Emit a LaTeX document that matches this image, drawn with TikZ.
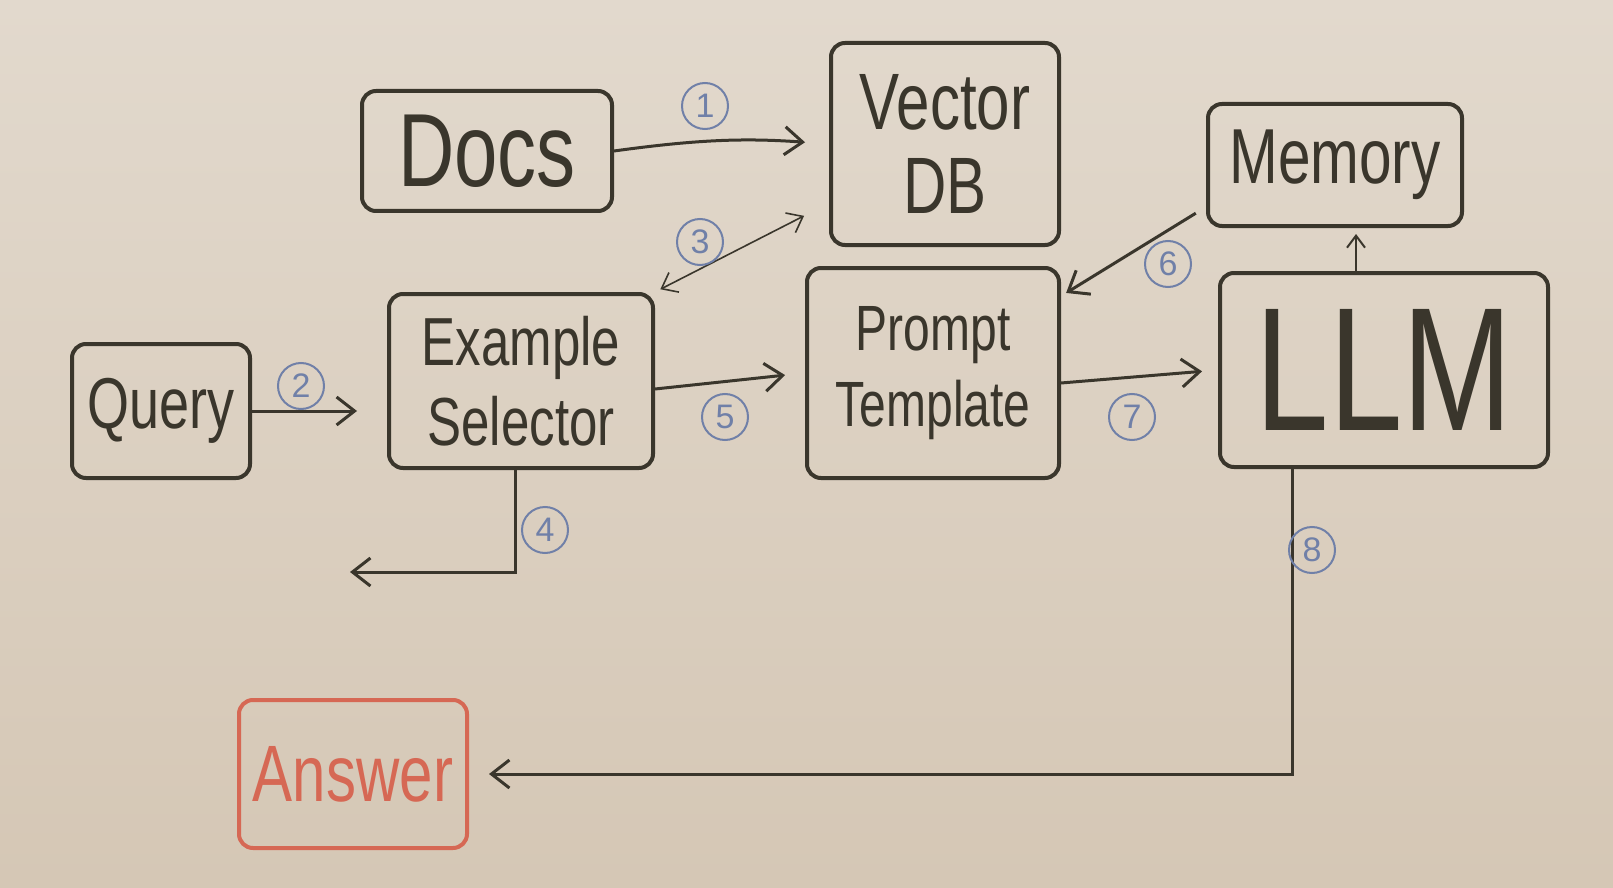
\documentclass[tikz,border=0pt]{standalone}
\usepackage{fontspec}
\setmainfont{Liberation Sans}
\usetikzlibrary{arrows.meta}
\definecolor{boardtop}{RGB}{226,217,205}
\definecolor{boardbot}{RGB}{213,199,181}
\definecolor{ink}{RGB}{58,54,44}
\definecolor{numblue}{RGB}{112,128,168}
\definecolor{redink}{RGB}{214,104,84}
\newcommand{\hw}[1]{\scalebox{0.75}[1]{#1}}
\begin{document}
\begin{tikzpicture}[x=0.5pt, y=-0.5pt,
    box/.style={draw=ink, line width=2pt, rounded corners=7pt, text=ink, align=center, inner sep=2pt},
    wire/.style={draw=ink, line width=1.5pt, -{Straight Barb[length=9pt, width=14pt, line width=1.5pt]}},
    num/.style={circle, draw=numblue, line width=1pt, text=numblue, minimum size=23pt, inner sep=0pt, font=\fontsize{17}{17}\selectfont}]
            \useasboundingbox (0, 0) rectangle (1613, 888);
            \shade[top color=boardtop, bottom color=boardbot] (0, 0) rectangle (1613, 888);
            % boxes
            \node[box, minimum width=125pt, minimum height=60pt, font=\fontsize{52}{60}\selectfont] (docs) at (487, 151) {\hw{Docs}};
            \node[box, minimum width=114pt, minimum height=101pt, font=\fontsize{40}{42}\selectfont] (vdb) at (945, 144) {\hw{Vector}\\\hw{DB}};
            \node[box, minimum width=127pt, minimum height=61pt, font=\fontsize{39}{42}\selectfont] (mem) at (1335, 165) {\hw{Memory}};
            \node[box, minimum width=89pt, minimum height=67pt, font=\fontsize{36}{42}\selectfont] (query) at (161, 411) {\hw{Query}};
            \node[box, minimum width=132pt, minimum height=87pt, font=\fontsize{34}{40}\selectfont] (sel) at (521, 381) {\hw{Example}\\\hw{Selector}};
            \node[box, minimum width=126pt, minimum height=105pt, font=\fontsize{32}{38}\selectfont] (tmpl) at (933, 373) {\hw{Prompt}\\\hw{Template}};
            \node[box, minimum width=164pt, minimum height=97pt, font=\fontsize{88}{90}\selectfont] (llm) at (1384, 370) {\hw{LLM}};
            \node[box, draw=redink, text=redink, minimum width=114pt, minimum height=74pt, font=\fontsize{40}{44}\selectfont] (ans) at (353, 774) {\hw{Answer}};
            \coordinate (skip) at (350, 572);
            % connectors
            \draw[wire, shorten >=12pt] (docs.east) to[bend left=6] (vdb.west);
            \draw[wire, shorten >=15pt] (query.east) -- (query.east -| sel.west);
            \draw[draw=ink, line width=0.8pt, {Straight Barb[length=7pt, width=11pt]}-{Straight Barb[length=7pt, width=11pt]}, shorten <=3pt, shorten >=14pt] (sel.north east) -- (vdb.207);
            \draw[wire] ([xshift=-3pt]sel.south) |- (skip);
            \draw[wire, shorten >=10pt] ([yshift=-4pt]sel.east) -- (tmpl.west);
            \draw[wire, shorten <=6pt, shorten >=3pt] (mem.198) -- (tmpl.31);
            \draw[wire, shorten >=8pt] ([yshift=-5pt]tmpl.east) -- (llm.west);
            \draw[draw=ink, line width=1pt, -{Straight Barb[length=6pt, width=9pt]}, shorten >=3pt] ([xshift=-14pt]llm.north) -- ([xshift=-14pt]llm.north |- mem.south);
            \draw[wire, shorten >=10pt] ([xshift=-46pt]llm.south) |- (ans.east);
            % step numbers
            \node[num] (n1) at (705, 106) {1};
            \node[num] (n2) at (301, 386) {2};
            \node[num] (n3) at (700, 242) {3};
            \node[num] (n4) at (545, 530) {4};
            \node[num] (n5) at (725, 417) {5};
            \node[num] (n6) at (1168, 264) {6};
            \node[num] (n7) at (1132, 417) {7};
            \node[num] (n8) at (1312, 550) {8};
\end{tikzpicture}
\end{document}
